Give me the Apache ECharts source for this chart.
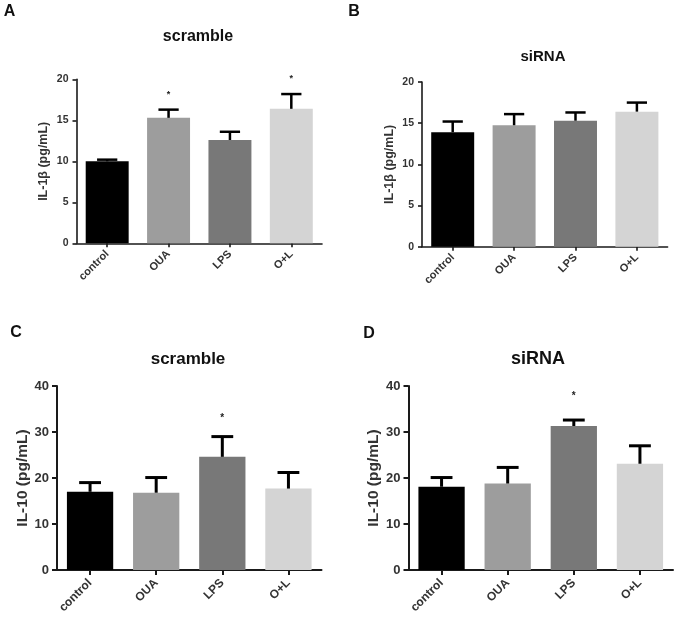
<!DOCTYPE html>
<html>
<head>
<meta charset="utf-8">
<script src="https://cdn.jsdelivr.net/npm/echarts@6/dist/echarts.min.js"></script>
<style>
html,body{margin:0;padding:0;background:#fff;}
#chart{width:675px;height:619px;}
</style>
</head>
<body>
<div id="chart"></div>
<script>
// ---- data ----
const categories = ['control', 'OUA', 'LPS', 'O+L'];

const il1bScrambleMean = [10.0, 15.3, 12.6, 16.4];
const il1bScrambleSem  = [0.2, 1.0, 1.0, 1.8];
const il1bScrambleStar = [null, 18.2, null, 20.1];

const il1bSirnaMean = [13.9, 14.75, 15.3, 16.4];
const il1bSirnaSem  = [1.3, 1.35, 1.0, 1.1];
const il1bSirnaStar = [null, null, null, null];

const il10ScrambleMean = [17.0, 16.8, 24.6, 17.7];
const il10ScrambleSem  = [2.0, 3.3, 4.4, 3.5];
const il10ScrambleStar = [null, null, 33.0, null];

const il10SirnaMean = [18.1, 18.8, 31.3, 23.1];
const il10SirnaSem  = [2.0, 3.5, 1.3, 3.9];
const il10SirnaStar = [null, null, 37.7, null];

const il1bAxis = { min: 0, max: 20, interval: 5, name: 'IL-1β (pg/mL)' };
const il10Axis = { min: 0, max: 40, interval: 10, name: 'IL-10 (pg/mL)' };

const panelLetters = ['A', 'B', 'C', 'D'];
const panelTitles = ['scramble', 'siRNA', 'scramble', 'siRNA'];

// ---- layout / style ----
const barColors = ['#000000', '#9d9d9d', '#787878', '#d4d4d4'];
const FONT = '"Liberation Sans", Arial, Helvetica, sans-serif';

const panels = [
  { mean: il1bScrambleMean, sem: il1bScrambleSem, star: il1bScrambleStar, axis: il1bAxis,
    grid: { left: 76.5, top: 79.3, width: 245.5, height: 164 },
    small: true, title: [198, 37], titleSize: 16, letter: [9.5, 11.5] },
  { mean: il1bSirnaMean, sem: il1bSirnaSem, star: il1bSirnaStar, axis: il1bAxis,
    grid: { left: 422, top: 82, width: 245.6, height: 164.7 },
    small: true, title: [543, 56.7], titleSize: 15, letter: [354, 11.7] },
  { mean: il10ScrambleMean, sem: il10ScrambleSem, star: il10ScrambleStar, axis: il10Axis,
    grid: { left: 57, top: 386, width: 264.5, height: 184 },
    small: false, title: [188, 359.3], titleSize: 17, letter: [16, 332.5] },
  { mean: il10SirnaMean, sem: il10SirnaSem, star: il10SirnaStar, axis: il10Axis,
    grid: { left: 408.5, top: 386, width: 264.5, height: 184 },
    small: false, title: [538, 359.3], titleSize: 18, letter: [369, 334] }
];

const grids = [], xAxes = [], yAxes = [], series = [], graphics = [];

panels.forEach((p, i) => {
  const s = p.small;
  const axisW = s ? 1.6 : 2;
  const errW = s ? 2.5 : 3;
  grids.push(Object.assign({ containLabel: false }, p.grid));
  xAxes.push({
    type: 'category', gridIndex: i, data: categories,
    axisLine: { show: true, lineStyle: { color: '#1a1a1a', width: axisW } },
    axisTick: { show: true, alignWithLabel: true, length: s ? 4 : 5, lineStyle: { color: '#1a1a1a', width: axisW } },
    axisLabel: { rotate: 45, margin: s ? 9 : 11, color: '#333', fontWeight: 'bold', fontFamily: FONT, fontSize: s ? 11 : 12 },
    splitLine: { show: false }
  });
  yAxes.push({
    type: 'value', gridIndex: i, min: p.axis.min, max: p.axis.max, interval: p.axis.interval,
    name: p.axis.name, nameLocation: 'middle', nameGap: 26, nameRotate: 90,
    nameTextStyle: { color: '#333', fontWeight: 'bold', fontFamily: FONT, fontSize: s ? 12.5 : 15.5 },
    axisLine: { show: true, lineStyle: { color: '#1a1a1a', width: axisW } },
    axisTick: { show: true, length: s ? 4 : 5, lineStyle: { color: '#1a1a1a', width: axisW } },
    axisLabel: { margin: 8, color: '#333', fontWeight: 'bold', fontFamily: FONT, fontSize: s ? 10.5 : 13 },
    splitLine: { show: false }
  });
  series.push({
    type: 'bar', xAxisIndex: i, yAxisIndex: i, barWidth: '70%',
    data: p.mean.map((v, k) => ({ value: v, itemStyle: { color: barColors[k] } })),
    z: 2, silent: true
  });
  series.push({
    type: 'custom', xAxisIndex: i, yAxisIndex: i, z: 3, silent: true,
    encode: { x: 0, y: 1 },
    data: p.mean.map((v, k) => [k, v, p.sem[k]]),
    renderItem: function (params, api) {
      const x = api.value(0), m = api.value(1), e = api.value(2);
      const p0 = api.coord([x, m]);
      const p1 = api.coord([x, m + e]);
      const half = api.size([1, 0])[0] * 0.165;
      return {
        type: 'group', children: [
          { type: 'line', shape: { x1: p0[0], y1: p0[1], x2: p1[0], y2: p1[1] }, style: { stroke: '#000', lineWidth: errW } },
          { type: 'line', shape: { x1: p1[0] - half, y1: p1[1], x2: p1[0] + half, y2: p1[1] }, style: { stroke: '#000', lineWidth: errW } }
        ]
      };
    }
  });
  const starData = [];
  p.star.forEach((v, k) => { if (v != null) starData.push([k, v]); });
  series.push({
    type: 'custom', xAxisIndex: i, yAxisIndex: i, z: 3, silent: true,
    encode: { x: 0, y: 1 },
    data: starData,
    renderItem: function (params, api) {
      const pt = api.coord([api.value(0), api.value(1)]);
      return {
        type: 'text', x: pt[0], y: pt[1],
        style: { text: '*', fill: '#222', font: 'bold ' + (s ? 9 : 10) + 'px ' + FONT, align: 'center', verticalAlign: 'middle' }
      };
    }
  });
  graphics.push({
    type: 'text', x: p.title[0], y: p.title[1],
    style: { text: panelTitles[i], fill: '#111', font: 'bold ' + p.titleSize + 'px ' + FONT, align: 'center', verticalAlign: 'middle' }
  });
  graphics.push({
    type: 'text', x: p.letter[0], y: p.letter[1],
    style: { text: panelLetters[i], fill: '#111', font: 'bold 16px ' + FONT, align: 'center', verticalAlign: 'middle' }
  });
});

const chart = echarts.init(document.getElementById('chart'), null, { renderer: 'canvas' });
chart.setOption({
  animation: false,
  backgroundColor: '#ffffff',
  grid: grids, xAxis: xAxes, yAxis: yAxes, series: series,
  graphic: graphics
});
</script>
</body>
</html>
